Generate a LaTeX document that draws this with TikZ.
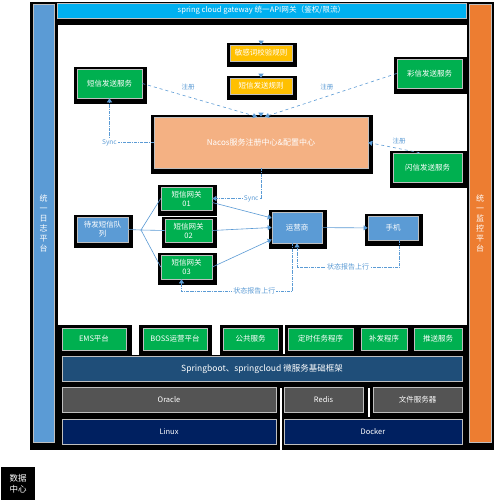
\documentclass[tikz,border=0pt]{standalone}
\usepackage{fontspec}
\setmainfont{Noto Sans CJK SC}
\usetikzlibrary{arrows.meta,calc}

\definecolor{gatecyan}{HTML}{00B0F0}
\definecolor{logblue}{HTML}{5B9BD5}
\definecolor{monorange}{HTML}{ED7D31}
\definecolor{svcgreen}{HTML}{00B050}
\definecolor{rulegold}{HTML}{FFC000}
\definecolor{nacosorange}{HTML}{F4B183}
\definecolor{basenavy}{HTML}{1F4E79}
\definecolor{dbgrey}{HTML}{545454}
\definecolor{osnavy}{HTML}{002060}
\definecolor{linkblue}{HTML}{5B9BD5}

\begin{document}
\begin{tikzpicture}[x=1pt,y=-1pt,>={Triangle[width=5pt,length=4pt]},
  box/.style={draw=black!25,line width=.6pt,text=white,inner sep=1pt,align=center,font=\fontsize{7.5}{9}\selectfont},
  framed/.style={preaction={draw=black,fill=black,line width=8pt,transform canvas={shift={(1pt,-2pt)}}}},
  link/.style={linkblue,line width=.6pt},
  reg/.style={link,dashed,->},
  sync/.style={link,densely dash dot,->},
  lab/.style={text=linkblue,font=\fontsize{6.5}{7.5}\selectfont,inner sep=1pt}]
\useasboundingbox (0,0) rectangle (494,501);
% background: black frame with white canvas
\fill (30,2) rectangle (494,450);
\fill[white] (58,25) rectangle (467,325);
\fill[white] (132,325) rectangle (139,355);
\fill[white] (212,325) rectangle (220,355);
\fill[white] (283,325) rectangle (285,354);
\fill[white] (280,388) rectangle (282,450);
\fill[white] (368,388) rectangle (369.5,417);

% gateway and side bars
\node[box,fill=gatecyan,minimum width=409pt,minimum height=15pt,font=\fontsize{7.6}{8}\selectfont] (gateway) at (261.5,10.5) {spring cloud gateway 统一API网关（鉴权/限流）};
\node[box,fill=logblue,minimum width=21pt,minimum height=438pt,font=\fontsize{8}{10}\selectfont] (logbar) at (43.5,223) {统\\一\\日\\志\\平\\台};
\node[box,fill=monorange,minimum width=22pt,minimum height=438pt,font=\fontsize{8}{10}\selectfont] (monbar) at (480,223) {统\\一\\监\\控\\平\\台};

% rules and nacos
\node[box,framed,fill=rulegold,minimum width=62pt,minimum height=16pt] (rule1) at (261,53) {敏感词校验规则};
\node[box,framed,fill=rulegold,minimum width=62pt,minimum height=16pt] (rule2) at (261,86) {短信发送规则};
\node[box,framed,fill=nacosorange,minimum width=214pt,minimum height=51pt,font=\fontsize{8}{9}\selectfont] (nacos) at (261,142.5) {Nacos服务注册中心\&配置中心};
\node[box,framed,fill=svcgreen,minimum width=65pt,minimum height=29pt] (sms) at (109.5,83.5) {短信发送服务};
\node[box,framed,fill=svcgreen,minimum width=65pt,minimum height=29pt] (mms) at (429.5,73.5) {彩信发送服务};
\node[box,framed,fill=svcgreen,minimum width=69pt,minimum height=29pt] (flash) at (427.5,167.5) {闪信发送服务};

% queue, gateways, carrier
\node[box,framed,fill=logblue,minimum width=51pt,minimum height=25pt] (queue) at (102.5,229.5) {待发短信队\\列};
\node[box,framed,fill=svcgreen,minimum width=51pt,minimum height=23pt] (gw1) at (186.5,198.5) {短信网关\\01};
\node[box,framed,fill=svcgreen,minimum width=47pt,minimum height=23pt] (gw2) at (188.5,230.5) {短信网关\\02};
\node[box,framed,fill=svcgreen,minimum width=51pt,minimum height=24pt] (gw3) at (186.5,267) {短信网关\\03};
\node[box,framed,fill=logblue,minimum width=50pt,minimum height=31pt] (isp) at (297,227.5) {运营商};
\node[box,framed,fill=logblue,minimum width=50pt,minimum height=24pt] (phone) at (393,228) {手机};

% base layers
\node[box,fill=svcgreen,minimum width=64pt,minimum height=22pt] (ems) at (94,339) {EMS平台};
\node[box,fill=svcgreen,minimum width=64pt,minimum height=22pt] (boss) at (175,339) {BOSS运营平台};
\node[box,fill=svcgreen,minimum width=55pt,minimum height=22pt] (common) at (250.5,339) {公共服务};
\node[box,fill=svcgreen,minimum width=65pt,minimum height=22pt] (timer) at (320.5,339) {定时任务程序};
\node[box,fill=svcgreen,minimum width=46pt,minimum height=22pt] (resend) at (384,339) {补发程序};
\node[box,fill=svcgreen,minimum width=48pt,minimum height=22pt] (push) at (438,339) {推送服务};
\node[box,fill=basenavy,minimum width=400pt,minimum height=25pt,font=\fontsize{8.5}{9}\selectfont] (spring) at (262,368.5) {Springboot、springcloud 微服务基础框架};
\node[box,fill=dbgrey,minimum width=214pt,minimum height=25pt] (oracle) at (169,399.5) {Oracle};
\node[box,fill=dbgrey,minimum width=79pt,minimum height=25pt] (redis) at (323.5,399.5) {Redis};
\node[box,fill=dbgrey,minimum width=89pt,minimum height=25pt] (files) at (417.5,399.5) {文件服务器};
\node[box,fill=osnavy,minimum width=214pt,minimum height=25pt] (linux) at (169,431.5) {Linux};
\node[box,fill=osnavy,minimum width=178pt,minimum height=25pt] (docker) at (373,431.5) {Docker};
\node[fill=black,text=white,minimum width=34pt,minimum height=33pt,inner sep=1pt,align=center,font=\fontsize{8.5}{11}\selectfont] (dc) at (18,483.5) {数据\\中心};

% connectors
\draw[link,->,shorten <=24pt] (gateway) -- (rule1);
\draw[link,->,shorten <=13pt] (rule1) -- (rule2);
\draw[link,->,shorten <=19pt] (rule2) -- (nacos);
\draw[reg] (sms.east) -- ([xshift=-4pt]nacos.north) node[lab,pos=.4,above=5pt]{注册};
\draw[reg] (mms.west) -- ([xshift=4pt]nacos.north) node[lab,pos=.53,above=5pt]{注册};
\draw[reg] ([xshift=-8pt]flash.north) -- (nacos.east) node[lab,pos=.4,above=3pt]{注册};
\draw[sync] (nacos.west) -| node[lab,pos=.5,fill=white]{Sync} (sms.south);
\draw[sync] (nacos.south) |- node[lab,pos=.6,fill=white]{Sync} (gw1.east);
\coordinate (fork) at (141,230);
\draw[link] (queue.east) -- (fork);
\draw[link] (fork) -- (gw1.west);
\draw[link] (fork) -- (gw2.west);
\draw[link] (fork) -- (gw3.west);
\draw[link,->] ([yshift=-4pt]gw1.east) -- ([yshift=9.5pt]isp.west);
\draw[link,->] (gw2.east) -- (isp.west);
\draw[link,->] (gw3.east) -- ([yshift=-12pt]isp.west);
\draw[link,->] (isp) -- (phone);
\draw[sync] ([xshift=6pt]phone.south) -- ++(0,27) -| node[lab,pos=.25,fill=white,font=\fontsize{7}{8}\selectfont]{状态报告上行} (isp.south);
\draw[sync] ([xshift=-5pt]isp.south) -- ++(0,48) -| node[lab,pos=.17,fill=white,font=\fontsize{7}{8}\selectfont]{状态报告上行} ([xshift=-5pt]gw3.south);
\end{tikzpicture}
\end{document}
